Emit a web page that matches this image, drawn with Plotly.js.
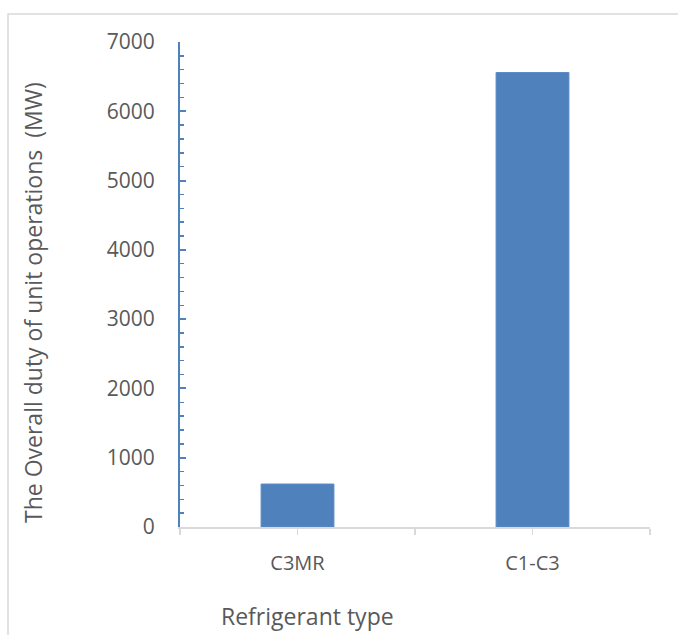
<!DOCTYPE html>
<html><head><meta charset="utf-8">
<script src="https://cdn.plot.ly/plotly-3.0.1.min.js"></script>
<style>html,body{margin:0;padding:0;background:#fff}#chart{width:678px;height:635px}</style>
</head><body><div id="chart"></div>
<script>
const categories = ["C3MR", "C1-C3"];
const duty = [620, 6560];
const yTicks = [0, 1000, 2000, 3000, 4000, 5000, 6000, 7000];
const yTitle = "The Overall duty of unit operations  (MW)";
const xTitle = "Refrigerant type";

const idx = categories.map((c, i) => i);
const xTickVals = [-0.5, 0, 0.5, 1, 1.5];
const xTickText = ["", categories[0], "", categories[1], ""];

const font = "'Open Sans', Lato, sans-serif";
const trace = {
  type: "bar", x: idx, y: duty, width: 0.31,
  marker: {color: "#4F81BD", line: {color: "#5B8CC6", width: 1}},
  hoverinfo: "skip"
};
const layout = {
  width: 678, height: 635,
  margin: {l: 180, r: 28, t: 42, b: 108},
  paper_bgcolor: "#fff", plot_bgcolor: "#fff",
  showlegend: false,
  font: {family: font, color: "#595959", size: 20},
  xaxis: {
    range: [-0.5, 1.5], tickmode: "array", tickvals: xTickVals, ticktext: xTickText,
    showgrid: false, zeroline: false, showline: true, linecolor: "#D9D9D9", linewidth: 1.5,
    ticks: "outside", ticklen: 6, tickcolor: "#D9D9D9", tickwidth: 1.5,
    ticklabelstandoff: 11, tickfont: {size: 20, color: "#595959"}
  },
  yaxis: {
    range: [0, 7000], tickmode: "array", tickvals: yTicks,
    showgrid: false, zeroline: false, showline: true, linecolor: "#4F81BD", linewidth: 2,
    ticks: "inside", ticklen: 6, tickcolor: "#4F81BD", tickwidth: 2,
    minor: {dtick: 200, ticks: "inside", ticklen: 4, tickcolor: "#4F81BD", tickwidth: 1.5, showgrid: false},
    ticklabelstandoff: 19, tickfont: {size: 21, color: "#595959"}
  },
  annotations: [{
    text: xTitle, xref: "paper", yref: "paper",
    x: (219 - 180) / 470, y: (527 - 616) / 485, xanchor: "left", yanchor: "middle",
    showarrow: false, font: {size: 23, color: "#595959"}
  }, {
    text: yTitle, xref: "paper", yref: "paper", textangle: -90,
    x: (33 - 180) / 470, y: (527 - 303) / 485, xanchor: "center", yanchor: "middle",
    showarrow: false, font: {size: 23, color: "#595959"}
  }],
  shapes: [{
    type: "rect", xref: "paper", yref: "paper", layer: "below",
    x0: (8 - 180) / 470, x1: (700 - 180) / 470, y0: (527 - 660) / 485, y1: (527 - 14) / 485,
    line: {color: "#D9D9D9", width: 1.5}, fillcolor: "rgba(0,0,0,0)"
  }]
};
Plotly.newPlot("chart", [trace], layout, {displayModeBar: false, staticPlot: true});
</script></body></html>
